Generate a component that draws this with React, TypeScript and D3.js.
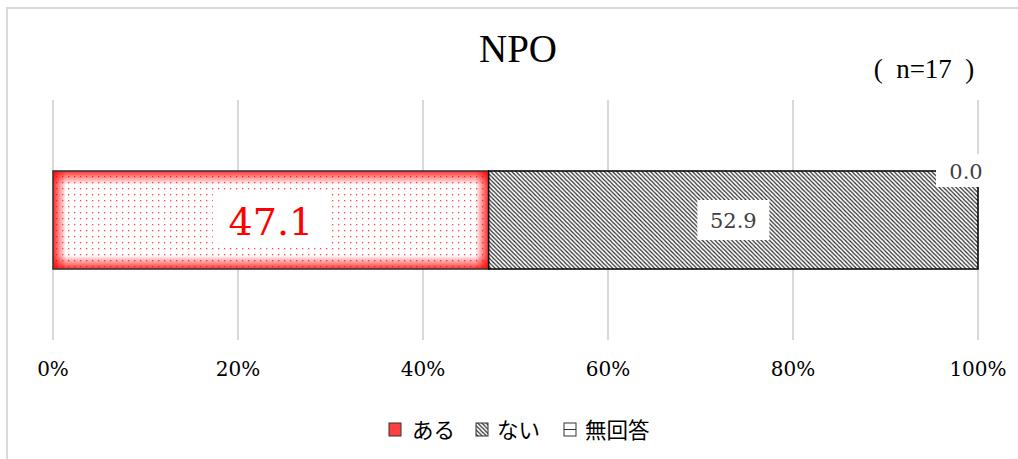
import React from "react";
import * as d3 from "d3";

const categories = ["NPO"];
const seriesNames = ["ある", "ない", "無回答"];
const seriesValues = [47.1, 52.9, 0.0];
const tickValues = [0, 20, 40, 60, 80, 100];
const title = "NPO";
const sampleNote = "(  n=17  )";

export default function App() {
  const W = 1018, H = 459;
  const x = d3.scaleLinear().domain([0, 100]).range([53, 978]);
  const y = d3.scaleBand().domain(categories).range([100, 340]).paddingInner(0.5).paddingOuter(0.362);
  const bw = y.bandwidth();
  const y0 = y(categories[0]) as number;
  let acc = 0;
  const segs = seriesValues.map((v, i) => {
    const s = { i, v, x0: acc, x1: acc + v };
    acc += v;
    return s;
  });
  const serif = "'DejaVu Serif', serif";
  return (
    <svg width={W} height={H} style={{ position: "absolute", left: 0, top: 0, background: "#fff" }}>
      <defs>
        <pattern id="dots" width="6" height="6" patternUnits="userSpaceOnUse">
          <rect width="6" height="6" fill="white" />
          <rect x="2" y="2" width="1.3" height="1.3" fill="#ff4a4a" />
        </pattern>
        <pattern id="hatch" width="4.2" height="4.2" patternUnits="userSpaceOnUse">
          <rect width="4.2" height="4.2" fill="white" />
          <path d="M-1,-1 L5.2,5.2 M-1,3.2 L1,5.2 M3.2,-1 L5.2,1" stroke="#2a2a2a" strokeWidth="1.2" />
        </pattern>
        <linearGradient id="gh" x1="0" x2="1" y1="0" y2="0">
          <stop offset="0" stopColor="#ff0000" stopOpacity="0.85" />
          <stop offset="0.03" stopColor="#ff0000" stopOpacity="0" />
          <stop offset="0.97" stopColor="#ff0000" stopOpacity="0" />
          <stop offset="1" stopColor="#ff0000" stopOpacity="0.85" />
        </linearGradient>
        <linearGradient id="gv" x1="0" x2="0" y1="0" y2="1">
          <stop offset="0" stopColor="#ff0000" stopOpacity="0.8" />
          <stop offset="0.14" stopColor="#ff0000" stopOpacity="0" />
          <stop offset="0.86" stopColor="#ff0000" stopOpacity="0" />
          <stop offset="1" stopColor="#ff0000" stopOpacity="0.8" />
        </linearGradient>
      </defs>
      <rect x={7} y={8} width={1100} height={600} fill="none" stroke="#d9d9d9" strokeWidth={2} />
      <text x={518} y={62} textAnchor="middle" fontFamily="'Liberation Serif', serif" fontSize={39} fill="#000">{title}</text>
      <text x={924} y={78} textAnchor="middle" fontFamily="'Liberation Serif', serif" fontSize={27} fill="#000" style={{ whiteSpace: "pre" }}>{sampleNote}</text>
      {tickValues.map((t) => (
        <g key={t}>
          <line x1={x(t)} x2={x(t)} y1={100} y2={340} stroke="#d9d9d9" strokeWidth={2} />
          <text x={x(t)} y={376} textAnchor="middle" fontFamily={serif} fontSize={20} fill="#000">{t}%</text>
        </g>
      ))}
      {segs.map((s) => {
        const xa = x(s.x0), xb = x(s.x1);
        if (s.i === 0) {
          return (
            <g key={s.i}>
              <rect x={xa} y={y0} width={xb - xa} height={bw} fill="url(#dots)" />
              <rect x={xa} y={y0} width={xb - xa} height={bw} fill="url(#gh)" />
              <rect x={xa} y={y0} width={xb - xa} height={bw} fill="url(#gv)" />
              <rect x={xa} y={y0} width={xb - xa} height={bw} fill="none" stroke="#333" strokeWidth={1.5} />
            </g>
          );
        }
        if (s.i === 1) {
          return <rect key={s.i} x={xa} y={y0} width={xb - xa} height={bw} fill="url(#hatch)" stroke="#000" strokeWidth={1.5} />;
        }
        return <rect key={s.i} x={xa} y={y0} width={Math.max(0, xb - xa)} height={bw} fill="white" stroke="#000" strokeWidth={1.5} />;
      })}
      {(() => {
        const cy = y0 + bw / 2;
        const s0 = segs[0], s1 = segs[1], s2 = segs[2];
        const c0 = (x(s0.x0) + x(s0.x1)) / 2;
        const c1 = (x(s1.x0) + x(s1.x1)) / 2;
        const c2 = x(s2.x1) - 12;
        return (
          <g fontFamily={serif}>
            <rect x={c0 - 58} y={cy - 26} width={116} height={52} fill="white" />
            <text x={c0} y={cy + 15} textAnchor="middle" fontSize={38} fill="#ff0000">{s0.v.toFixed(1)}</text>
            <rect x={c1 - 36} y={cy - 20} width={72} height={40} fill="white" />
            <text x={c1} y={cy + 8} textAnchor="middle" fontSize={21} fill="#404040">{s1.v.toFixed(1)}</text>
            <rect x={c2 - 30} y={y0 - 17} width={60} height={33} fill="white" />
            <text x={c2} y={y0 + 8} textAnchor="middle" fontSize={21} fill="#404040">{s2.v.toFixed(1)}</text>
          </g>
        );
      })()}
      <g fontFamily="'Noto Sans CJK JP', sans-serif" fontSize={21.5} fill="#000">
        <rect x={389} y={423} width={12} height={13} fill="#ff4040" stroke="#333" strokeWidth={1} />
        <text x={412} y={438}>{seriesNames[0]}</text>
        <rect x={476} y={423} width={12} height={13} fill="url(#hatch)" stroke="#333" strokeWidth={1} />
        <text x={497} y={438}>{seriesNames[1]}</text>
        <rect x={564} y={423} width={12} height={13} fill="white" stroke="#333" strokeWidth={1} />
        <line x1={564} x2={576} y1={429.5} y2={429.5} stroke="#333" strokeWidth={1} />
        <text x={585} y={438}>{seriesNames[2]}</text>
      </g>
    </svg>
  );
}
